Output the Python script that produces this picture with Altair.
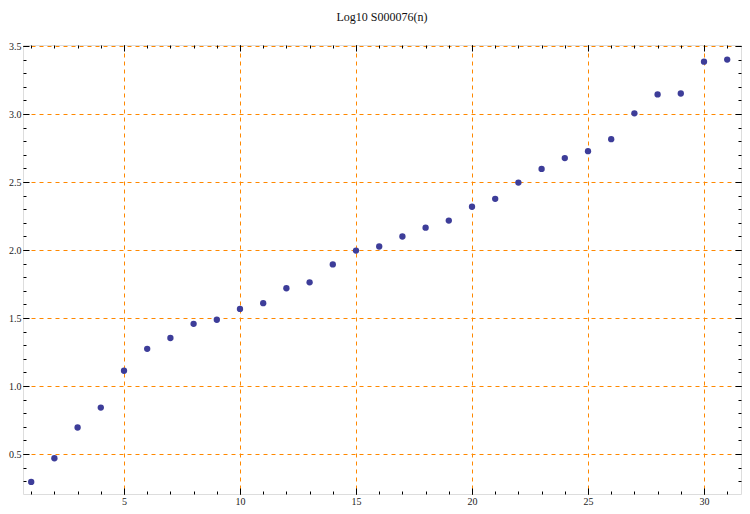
import altair as alt
import pandas as pd

n_values = list(range(1, 32))
log_values = [0.295, 0.469, 0.695, 0.841, 1.112, 1.273, 1.353, 1.457, 1.487, 1.567,
              1.609, 1.719, 1.762, 1.894, 1.996, 2.026, 2.099, 2.164, 2.216, 2.318,
              2.376, 2.496, 2.596, 2.676, 2.727, 2.815, 3.005, 3.144, 3.151, 3.385, 3.400]

x_major = [5, 10, 15, 20, 25, 30]
x_minor = list(range(1, 32))
y_major = [0.5, 1.0, 1.5, 2.0, 2.5, 3.0, 3.5]
y_minor = [round(0.3 + 0.1 * i, 1) for i in range(33)]
title_text = "Log10 S000076(n)"

df = pd.DataFrame({"n": n_values, "v": log_values})

W, H = 718, 449
KX, KY = 23.2, 136.0
# domains chosen so that grid lines fall on whole pixels
x0 = 5 - 101 / KX
y0 = 0.5 - 40 / KY
XD = [x0, x0 + W / KX]
YD = [y0, y0 + H / KY]
FONT = "Liberation Serif"
ORANGE = "#FF8800"

xs = alt.Scale(domain=XD, nice=False, zero=False)
ys = alt.Scale(domain=YD, nice=False, zero=False)


def label_axes():
    return (
        alt.Axis(orient="bottom", values=x_major, grid=True, gridColor=ORANGE,
                 gridDash=[4, 4], gridWidth=1, gridOpacity=1, ticks=False, domain=False,
                 labelFont=FONT, labelFontSize=10, labelColor="#222",
                 labelPadding=2, title=None, labelFlush=False),
        alt.Axis(orient="left", values=y_major, grid=True, gridColor=ORANGE,
                 gridDash=[4, 4], gridWidth=1, gridOpacity=1, ticks=False, domain=False,
                 labelFont=FONT, labelFontSize=10, labelColor="#222",
                 labelPadding=2, title=None, format=".1f", labelFlush=False),
    )


def tick_axis(orient, values, size):
    return alt.Axis(orient=orient, values=values, grid=False, labels=False,
                    domain=False, ticks=True, tickSize=size, offset=-size,
                    tickColor="#000", tickWidth=1, title=None)


xa, ya = label_axes()
points = alt.Chart(df).mark_circle(size=40, color="#3D3D99", opacity=1).encode(
    x=alt.X("n:Q", scale=xs, axis=xa),
    y=alt.Y("v:Q", scale=ys, axis=ya),
)


def ghost(xo, xv, xsz, yo, yv, ysz):
    return alt.Chart(df).mark_circle(opacity=0).encode(
        x=alt.X("n:Q", scale=xs, axis=tick_axis(xo, xv, xsz)),
        y=alt.Y("v:Q", scale=ys, axis=tick_axis(yo, yv, ysz)),
    )


layers = [
    ghost("bottom", x_major, 6, "left", y_major, 6),
    ghost("bottom", x_minor, 3, "left", y_minor, 3),
    ghost("top", x_major, 6, "right", y_major, 6),
    ghost("top", x_minor, 3, "right", y_minor, 3),
    points,
]

chart = alt.layer(*layers).resolve_axis(x="independent", y="independent").properties(
    width=W,
    height=H,
    autosize=alt.AutoSizeParams(type="none"),
    padding={"left": 15, "top": 37, "right": 1, "bottom": 12},
    title=alt.TitleParams(title_text, font=FONT, fontSize=12, fontWeight="normal",
                          color="#111", anchor="middle", offset=17),
).configure_view(stroke="#000", strokeWidth=1).configure(background="white")

chart.save("out.html", embed_options={"renderer": "svg", "actions": False})
